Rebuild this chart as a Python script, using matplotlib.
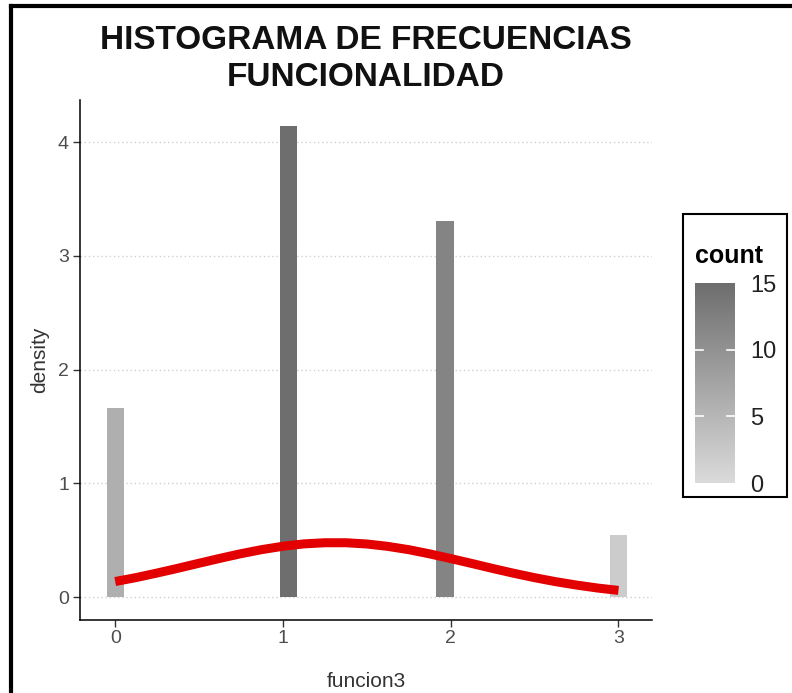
import numpy as np
import matplotlib
matplotlib.use("Agg")
from matplotlib import pyplot as plt
from matplotlib.colors import LinearSegmentedColormap, Normalize
from matplotlib.lines import Line2D

# histogram bins (centres), counts and density
bin_centres = [0.0, 1.034, 1.966, 3.0]
counts = [6, 15, 12, 2]
densities = [1.66, 4.14, 3.31, 0.55]
bin_width = 0.1034

# red density curve, read at regular x steps
curve_x = [0.0, 0.125, 0.25, 0.375, 0.5, 0.625, 0.75, 0.875, 1.0, 1.125, 1.25,
           1.375, 1.5, 1.625, 1.75, 1.875, 2.0, 2.125, 2.25, 2.375, 2.5, 2.625,
           2.75, 2.875, 3.0]
curve_y = [0.138, 0.173, 0.213, 0.255, 0.299, 0.342, 0.383, 0.419, 0.448, 0.469,
           0.479, 0.479, 0.468, 0.447, 0.418, 0.381, 0.340, 0.297, 0.253, 0.211,
           0.172, 0.137, 0.107, 0.081, 0.060]

x_ticks = [0, 1, 2, 3]
y_ticks = [0, 1, 2, 3, 4]
cbar_ticks = [0, 5, 10, 15]

plt.rcParams['font.family'] = ['Liberation Sans', 'DejaVu Sans']

cmap = LinearSegmentedColormap.from_list("greys", ["#dbdbdb", "#6e6e6e"])
norm = Normalize(vmin=0, vmax=15)

fig = plt.figure(figsize=(7.92, 6.93), dpi=100)
ax = fig.add_axes([80 / 792, 1 - 620 / 693, (652 - 80) / 792, (620 - 100) / 693])

ax.bar(bin_centres, densities, width=bin_width, color=cmap(norm(counts)), zorder=2)
ax.plot(curve_x, curve_y, color="#e30000", lw=6.5, solid_capstyle="butt", zorder=3)

ax.set_xlim(-0.21, 3.2)
ax.set_ylim(-0.2, 4.37)
ax.set_xticks(x_ticks)
ax.set_yticks(y_ticks)
ax.grid(axis="y", color="#d0d0d0", linestyle=(0, (1, 2)), lw=1, zorder=0)
for s in ["top", "right"]:
    ax.spines[s].set_visible(False)
for s in ["left", "bottom"]:
    ax.spines[s].set_color("black")
    ax.spines[s].set_linewidth(1.1)
ax.tick_params(colors="#333333", labelsize=14, length=5, width=1, labelcolor="#4d4d4d", pad=3)
ax.tick_params(axis="x", pad=2)
ax.set_xlabel("funcion3", fontsize=15, color="#333333", labelpad=18)
ax.set_ylabel("density", fontsize=15, color="#333333", labelpad=6)

fig.text(366 / 792, 1 - 49 / 693, "HISTOGRAMA DE FRECUENCIAS", ha="center", va="baseline",
         fontsize=24, fontweight="bold", color="#111111")
fig.text(366 / 792, 1 - 86 / 693, "FUNCIONALIDAD", ha="center", va="baseline",
         fontsize=24, fontweight="bold", color="#111111")

# legend box with colour bar
box = plt.Rectangle((683 / 792, 1 - 497 / 693), 104 / 792, 283 / 693, transform=fig.transFigure,
                    fill=False, edgecolor="black", lw=1.5)
fig.patches.append(box)
fig.text(695 / 792, 1 - 256 / 693, "count", ha="left", va="center", fontsize=18,
         fontweight="bold", color="black")
cax = fig.add_axes([695 / 792, 1 - 483 / 693, 40 / 792, 200 / 693])
grad = np.linspace(0, 15, 256).reshape(-1, 1)
cax.imshow(grad, aspect="auto", cmap=cmap, norm=norm, origin="lower", extent=[0, 1, 0, 15])
for t in cbar_ticks[1:-1]:
    cax.plot([0, 0.2], [t, t], color="white", lw=1.2)
    cax.plot([0.8, 1], [t, t], color="white", lw=1.2)
cax.set_xlim(0, 1)
cax.set_ylim(0, 15)
cax.set_xticks([])
cax.yaxis.tick_right()
cax.set_yticks(cbar_ticks)
cax.tick_params(axis="y", length=0, labelsize=17, labelcolor="#222222", pad=11)
for s in cax.spines.values():
    s.set_visible(False)

# outer frame (left and top edges visible in the picture)
fig.lines.append(Line2D([11 / 792, 11 / 792], [0, 1 - 6 / 693], transform=fig.transFigure,
                        color="black", lw=3))
fig.lines.append(Line2D([11 / 792, 1], [1 - 6 / 693, 1 - 6 / 693], transform=fig.transFigure,
                        color="black", lw=3))

fig.savefig("out.png", dpi=100)
